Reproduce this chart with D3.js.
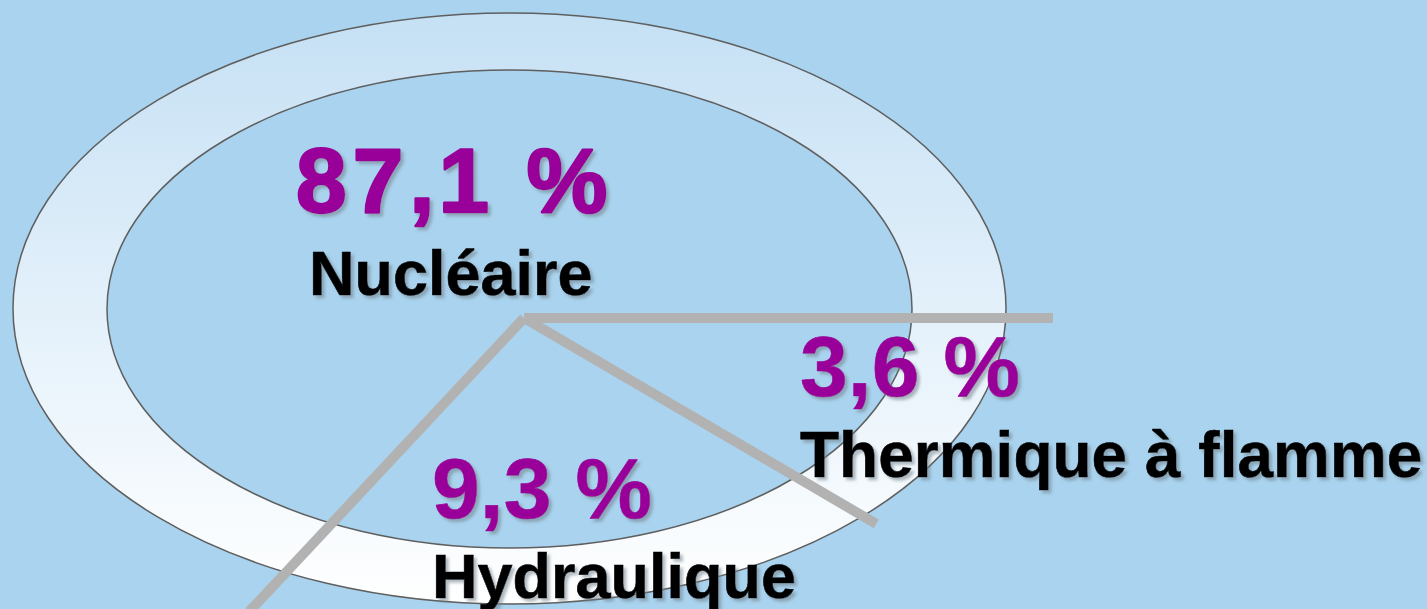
<!DOCTYPE html>
<html>
<head>
<meta charset="utf-8">
<script src="https://cdn.jsdelivr.net/npm/d3@7"></script>
<style>
  html, body { margin: 0; padding: 0; background: #a9d3ee; }
  svg { display: block; }
  text { font-family: "Liberation Sans", Arial, sans-serif; font-weight: bold; }
</style>
</head>
<body>
<div id="chart"></div>
<script>
// parts of electricity production (%)
const categories = ["Thermique à flamme", "Hydraulique", "Nucléaire"];
const shares = [3.6, 9.3, 87.1];
const shareLabels = ["3,6 %", "9,3 %", "87,1 %"];

const width = 1427;
const height = 609;
const bg = "#a9d3ee";

const svg = d3.select("#chart").append("svg")
  .attr("width", width)
  .attr("height", height);

svg.append("rect").attr("width", width).attr("height", height).attr("fill", bg);

const defs = svg.append("defs");
const grad = defs.append("linearGradient")
  .attr("id", "ring-grad")
  .attr("x1", 0).attr("y1", 0).attr("x2", 0).attr("y2", 1);
grad.append("stop").attr("offset", "0%").attr("stop-color", "#c5e0f4");
grad.append("stop").attr("offset", "55%").attr("stop-color", "#e6f2fb");
grad.append("stop").attr("offset", "100%").attr("stop-color", "#ffffff");

const shadow = defs.append("filter").attr("id", "shadow")
  .attr("x", "-10%").attr("y", "-20%").attr("width", "130%").attr("height", "150%");
shadow.append("feDropShadow")
  .attr("dx", 3).attr("dy", 3).attr("stdDeviation", 1.5)
  .attr("flood-color", "#6f7f8a").attr("flood-opacity", 0.55);

// ring (tilted disc outline)
const ring = { cx: 509.5, cy: 308.5, outerRx: 496.5, outerRy: 295.5, innerRx: 402.5, innerRy: 239 };
svg.append("ellipse")
  .attr("cx", ring.cx).attr("cy", ring.cy)
  .attr("rx", ring.outerRx).attr("ry", ring.outerRy)
  .attr("fill", "url(#ring-grad)")
  .attr("stroke", "#5f5f5f").attr("stroke-width", 1.5);
svg.append("ellipse")
  .attr("cx", ring.cx).attr("cy", ring.cy + 0.5)
  .attr("rx", ring.innerRx).attr("ry", ring.innerRy)
  .attr("fill", bg)
  .attr("stroke", "#5f5f5f").attr("stroke-width", 1.5);

// separators: pie boundaries, drawn in a perspective-like angle mapping
const pie = d3.pie().sort(null).value((d) => d);
const arcs = pie(shares);
const total = d3.sum(shares);
// cumulative share (%) -> on-screen angle (degrees, clockwise from 3 o'clock)
const angle = d3.scaleLinear()
  .domain([0, shares[0], shares[0] + shares[1]])
  .range([0, 30.3, 133.1]);
const spokeLen = [529, 408, 402];
const center = { x: 524, y: 318 };

const boundaries = arcs.map((a) => a.startAngle / (2 * Math.PI) * total);
svg.append("g")
  .selectAll("line")
  .data(boundaries)
  .join("line")
  .attr("x1", center.x)
  .attr("y1", center.y)
  .attr("x2", (d, i) => center.x + spokeLen[i] * Math.cos(angle(d) * Math.PI / 180))
  .attr("y2", (d, i) => center.y + spokeLen[i] * Math.sin(angle(d) * Math.PI / 180))
  .attr("stroke", "#b2b2b2")
  .attr("stroke-width", 10);

// labels
const labelPos = [
  { x: 800, yVal: 396, yCat: 477, sVal: 86, sCat: 64, dx: null, w: 0.6 },
  { x: 432, yVal: 518, yCat: 598, sVal: 86, sCat: 63, dx: null, w: 0.6 },
  { x: 296, yVal: 212, yCat: 295, sVal: 91, sCat: 63, dx: "0 6 6 4 0 12", w: 2.4, catX: 309 },
];

const g = svg.append("g").attr("filter", "url(#shadow)");
g.selectAll(".val")
  .data(shareLabels)
  .join("text")
  .attr("class", "val")
  .attr("x", (d, i) => labelPos[i].x)
  .attr("y", (d, i) => labelPos[i].yVal)
  .attr("dx", (d, i) => labelPos[i].dx)
  .attr("font-size", (d, i) => labelPos[i].sVal)
  .attr("fill", "#990099")
  .attr("stroke", "#990099")
  .attr("stroke-width", (d, i) => labelPos[i].w)
  .attr("stroke-linejoin", "round")
  .text((d) => d);

g.selectAll(".cat")
  .data(categories)
  .join("text")
  .attr("class", "cat")
  .attr("x", (d, i) => labelPos[i].catX ?? labelPos[i].x)
  .attr("y", (d, i) => labelPos[i].yCat)
  .attr("font-size", (d, i) => labelPos[i].sCat)
  .attr("fill", "#000")
  .attr("stroke", "#000")
  .attr("stroke-width", 0.6)
  .text((d) => d);
</script>
</body>
</html>
